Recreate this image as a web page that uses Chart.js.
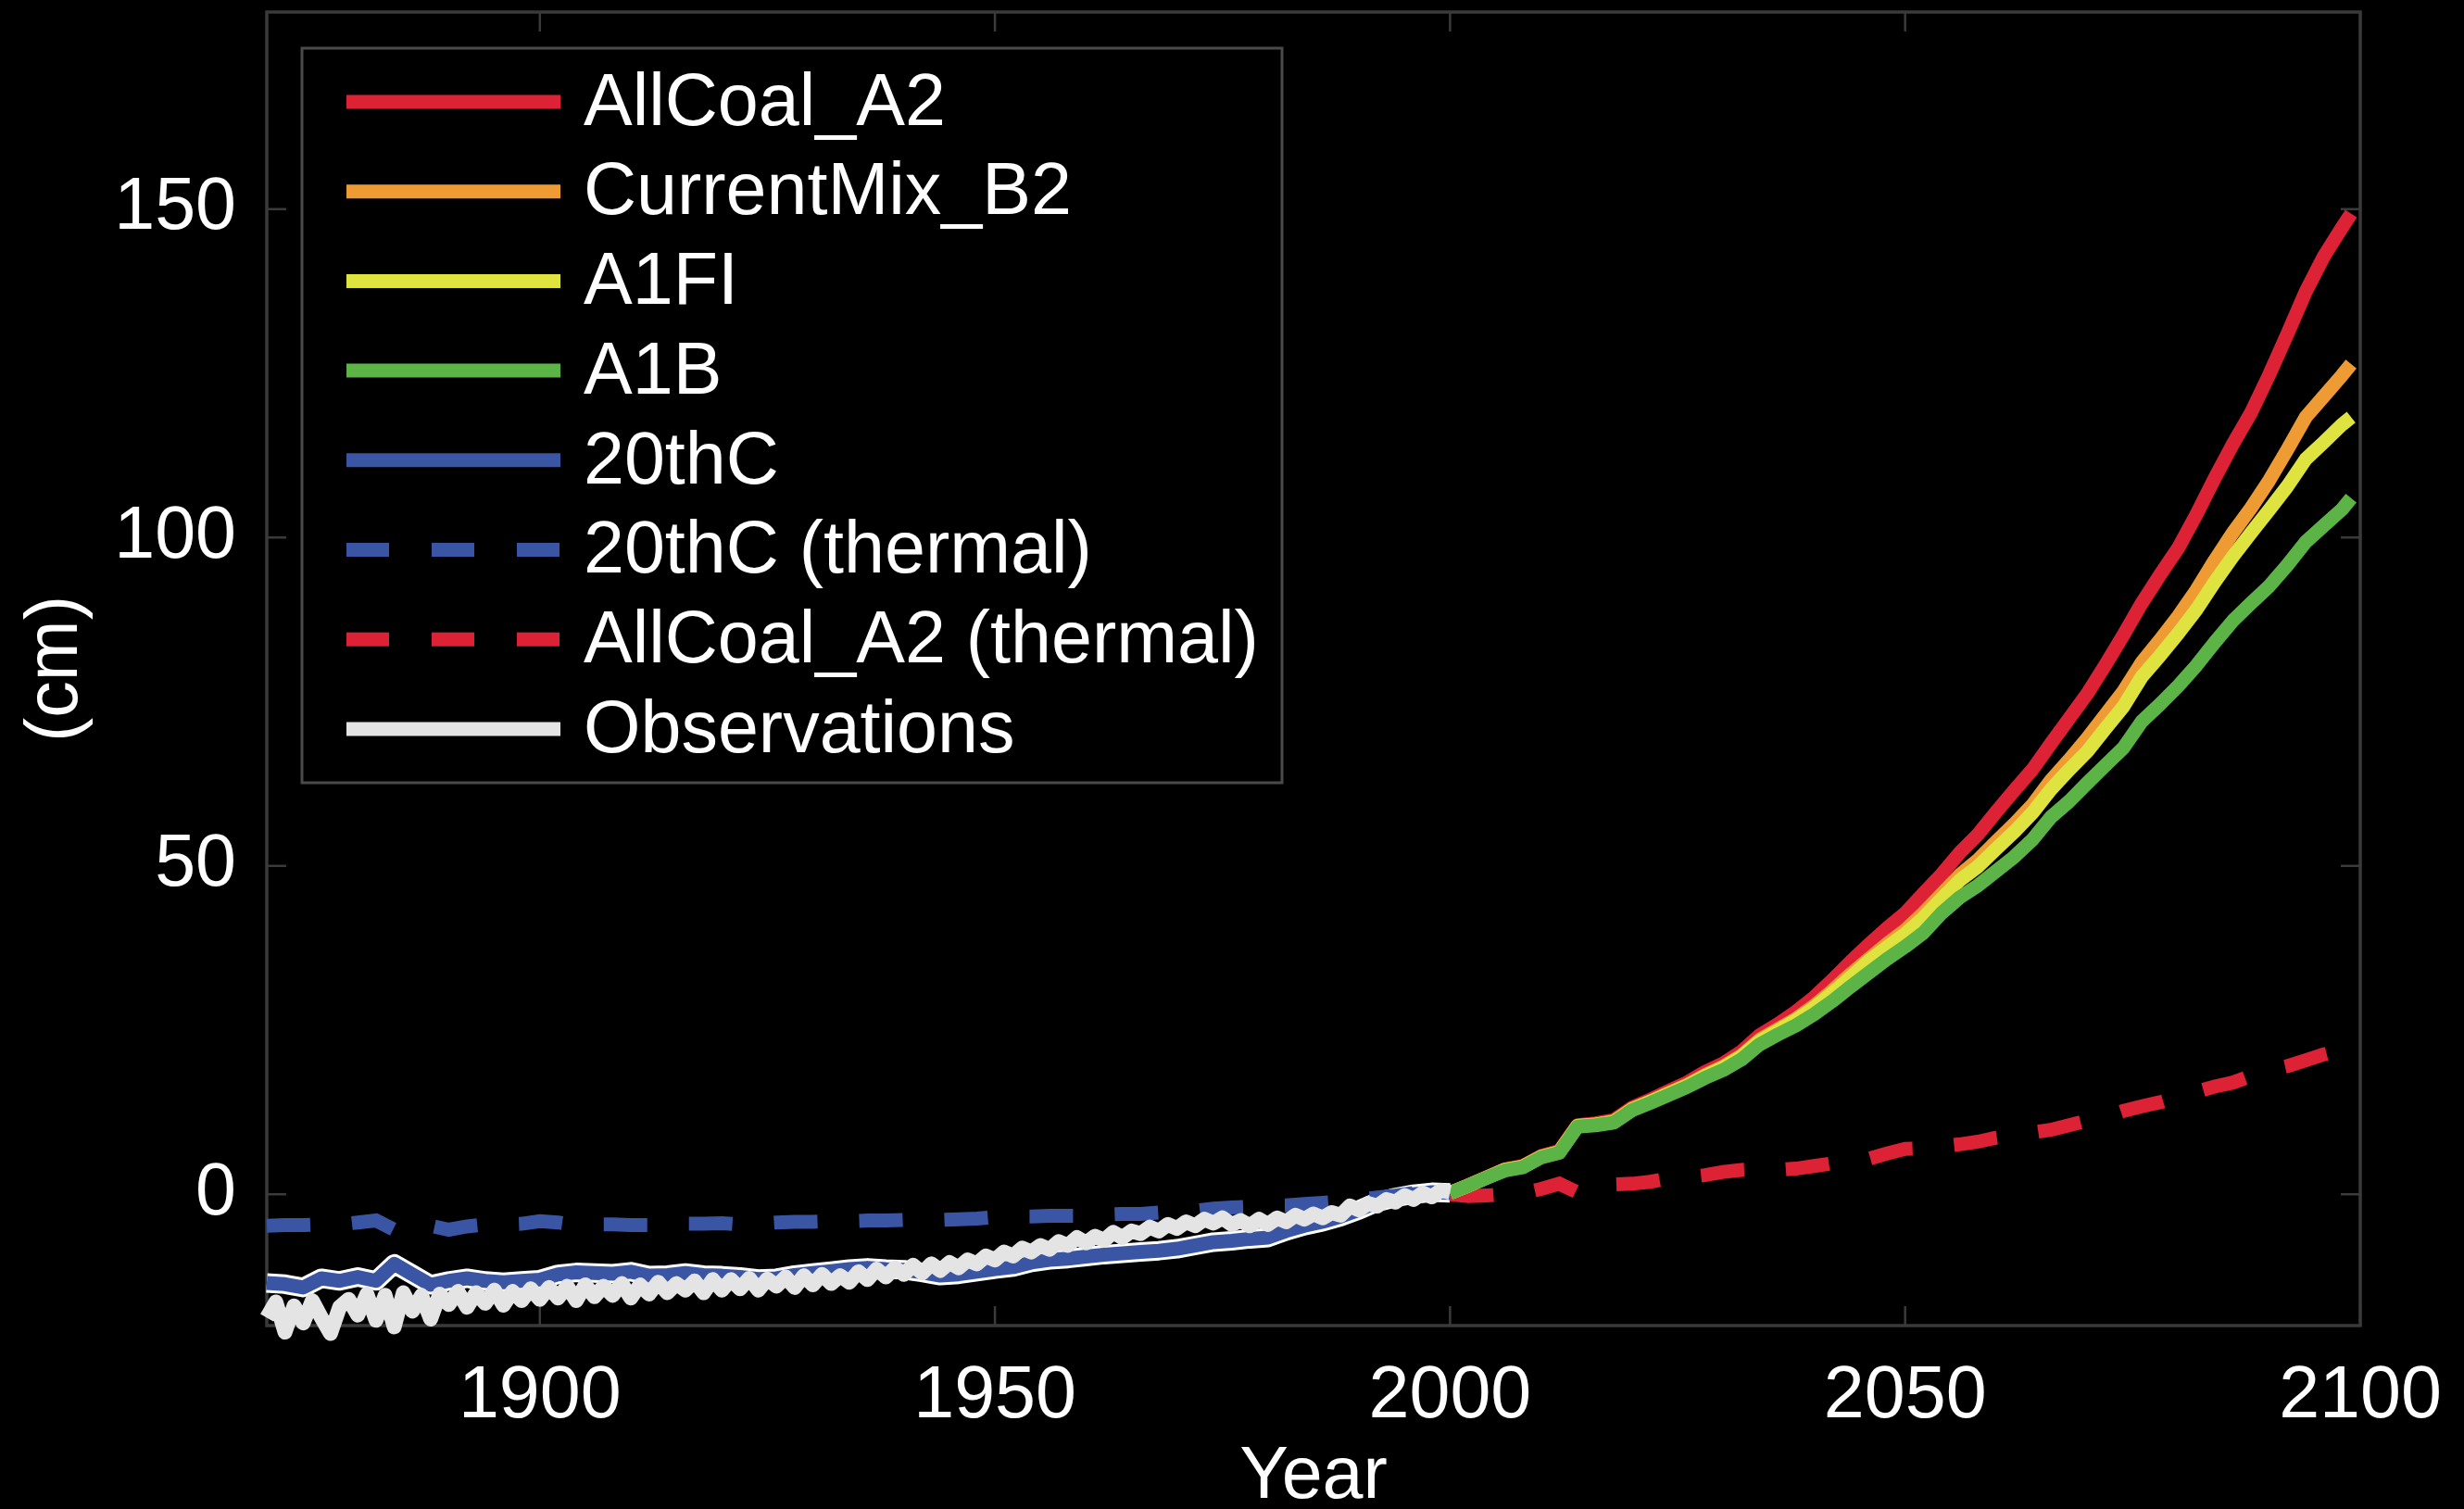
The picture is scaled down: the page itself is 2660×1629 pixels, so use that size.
<!DOCTYPE html>
<html>
<head>
<meta charset="utf-8">
<title>Sea level rise scenarios</title>
<script src="https://cdn.jsdelivr.net/npm/chart.js@4.4.1/dist/chart.umd.min.js"></script>
<style>
  html, body { margin: 0; padding: 0; background: #000; }
  canvas { display: block; }
</style>
</head>
<body>
<canvas id="chart" width="2660" height="1629"></canvas>
<script>
// ---- data (cm, relative to 2000) ----
const yearTicks = [1900, 1950, 2000, 2050, 2100];
const cmTicks = [0, 50, 100, 150];

const histYears = [1870,1872,1874,1876,1878,1880,1882,1884,1886,1888,
  1890,1892,1894,1896,1898,1900,1902,1904,1906,1908,
  1910,1912,1914,1916,1918,1920,1922,1924,1926,1928,
  1930,1932,1934,1936,1938,1940,1942,1944,1946,1948,
  1950,1952,1954,1956,1958,1960,1962,1964,1966,1968,
  1970,1972,1974,1976,1978,1980,1982,1984,1986,1988,
  1990,1992,1994,1996,1998,2000];

const twentiethC = [-13.5,-13.7,-14.2,-12.8,-13.2,-12.6,-13.2,-10.6,-12.2,-13.8,
  -13.2,-12.8,-13.2,-13.4,-13.2,-13.0,-12.2,-11.9,-12.0,-12.1,
  -11.8,-12.4,-12.3,-12.0,-12.3,-12.4,-12.6,-12.9,-12.8,-12.3,
  -12.0,-11.7,-11.4,-11.2,-11.4,-11.5,-11.9,-12.4,-12.2,-11.8,
  -11.4,-11.1,-10.4,-10.0,-9.8,-9.5,-9.2,-9.0,-8.8,-8.6,
  -8.3,-7.8,-7.3,-7.1,-6.8,-6.6,-5.6,-4.8,-4.2,-3.4,
  -2.4,-1.2,-0.5,0.0,0.3,0.2];

const twentiethCThermal = [-4.8,-4.7,-4.7,-4.6,-4.6,-4.3,-4.0,-5.4,-5.2,-4.8,
  -5.4,-4.9,-4.6,-4.6,-4.5,-4.1,-4.3,-4.7,-4.6,-4.6,
  -4.7,-4.7,-4.6,-4.5,-4.5,-4.4,-4.6,-4.5,-4.3,-4.2,
  -4.2,-4.1,-4.1,-4.0,-4.0,-3.9,-4.0,-3.9,-3.8,-3.7,
  -3.5,-3.4,-3.4,-3.3,-3.3,-3.3,-3.1,-3.0,-3.0,-2.8,
  -2.6,-2.5,-2.2,-2.0,-1.9,-1.7,-1.7,-1.5,-1.3,-1.1,
  -0.8,-0.5,-0.2,0.2,0.3,0.3];

const obsYears = [1870,1871,1872,1873,1874,1875,1876,1877,1878,1879,
  1880,1881,1882,1883,1884,1885,1886,1887,1888,1889,
  1890,1891,1892,1893,1894,1895,1896,1897,1898,1899,
  1900,1901,1902,1903,1904,1905,1906,1907,1908,1909,
  1910,1911,1912,1913,1914,1915,1916,1917,1918,1919,
  1920,1921,1922,1923,1924,1925,1926,1927,1928,1929,
  1930,1931,1932,1933,1934,1935,1936,1937,1938,1939,
  1940,1941,1942,1943,1944,1945,1946,1947,1948,1949,
  1950,1951,1952,1953,1954,1955,1956,1957,1958,1959,
  1960,1961,1962,1963,1964,1965,1966,1967,1968,1969,
  1970,1971,1972,1973,1974,1975,1976,1977,1978,1979,
  1980,1981,1982,1983,1984,1985,1986,1987,1988,1989,
  1990,1991,1992,1993,1994,1995,1996,1997,1998,1999,
  2000];

const observations = [-18.8,-16.4,-21.0,-17.0,-19.6,-16.2,-18.8,-21.2,-17.2,-16.0,
  -18.4,-15.2,-19.2,-15.4,-20.2,-15.0,-17.8,-15.4,-19.0,-15.2,
  -16.8,-14.8,-17.2,-15.0,-16.6,-14.6,-16.9,-14.8,-16.2,-14.4,
  -16.0,-14.2,-15.8,-14.0,-16.2,-13.8,-15.6,-14.0,-15.4,-13.6,
  -15.8,-13.8,-15.2,-13.4,-15.0,-13.6,-14.6,-13.2,-15.0,-13.0,
  -14.6,-13.0,-14.4,-12.8,-14.6,-12.9,-14.0,-12.6,-14.2,-12.4,
  -13.8,-12.2,-13.6,-12.4,-13.4,-11.8,-13.0,-11.4,-12.6,-11.2,
  -12.2,-10.8,-12.0,-10.6,-11.6,-10.4,-11.2,-10.0,-10.6,-9.4,
  -10.0,-8.8,-9.4,-8.2,-8.8,-7.8,-8.4,-7.2,-7.8,-6.6,
  -7.4,-6.4,-7.0,-5.8,-6.6,-5.6,-6.0,-5.0,-5.6,-4.6,
  -5.2,-4.2,-4.8,-3.8,-4.4,-3.6,-4.6,-4.0,-4.8,-3.8,
  -4.6,-3.6,-4.2,-3.2,-3.8,-3.0,-3.6,-2.8,-3.2,-1.8,
  -2.4,-1.4,-1.8,-0.8,-1.2,-0.2,-0.8,0.2,-0.4,0.6,
  0.3];

const projYears = [2000,2002,2004,2006,2008,2010,2012,2014,2016,2018,
  2020,2022,2024,2026,2028,2030,2032,2034,2036,2038,
  2040,2042,2044,2046,2048,2050,2052,2054,2056,2058,
  2060,2062,2064,2066,2068,2070,2072,2074,2076,2078,
  2080,2082,2084,2086,2088,2090,2092,2094,2096,2098,
  2099];

const allCoalA2 = [0.2,1.4,2.6,3.8,4.3,5.8,6.6,10.5,10.8,11.3,
  13.2,14.4,15.7,17.0,18.6,19.9,21.7,24.2,25.9,27.8,
  30.0,32.6,35.4,38.0,40.5,42.8,45.8,48.7,52.0,54.8,
  58.2,61.5,64.7,68.6,72.4,76.2,80.6,85.2,90.0,94.3,
  98.4,103.5,109.0,114.2,119.0,124.8,131.0,137.4,142.8,147.2,
  149.3];

const currentMixB2 = [0.2,1.3,2.5,3.7,4.2,5.7,6.4,10.4,10.6,11.1,
  13.0,14.1,15.4,16.6,18.1,19.4,21.1,23.5,25.1,26.7,
  28.7,31.0,33.5,35.8,38.1,40.2,42.8,45.7,48.6,50.9,
  53.7,56.4,59.3,63.0,66.1,69.4,73.0,76.6,81.0,84.4,
  88.0,92.0,96.5,100.7,104.5,108.7,113.4,118.3,121.5,124.7,
  126.4];

const a1fi = [0.2,1.3,2.5,3.7,4.2,5.7,6.4,10.4,10.6,11.0,
  12.9,14.1,15.3,16.5,18.0,19.3,21.0,23.3,24.9,26.5,
  28.4,30.6,33.0,35.5,37.6,39.6,42.1,45.0,47.8,49.9,
  52.6,55.2,58.1,61.6,64.6,67.4,70.9,74.3,78.8,82.0,
  85.4,89.0,93.2,97.1,100.7,104.2,107.8,111.9,114.5,117.2,
  118.3];

const a1b = [0.2,1.3,2.5,3.6,4.1,5.6,6.3,10.3,10.5,10.9,
  12.8,13.9,15.1,16.3,17.7,18.9,20.5,22.8,24.3,25.7,
  27.4,29.4,31.6,33.7,35.8,37.7,39.8,42.8,45.2,47.0,
  49.2,51.4,54.0,57.4,59.8,62.6,65.3,68.0,72.0,74.6,
  77.4,80.5,84.0,87.3,90.0,92.6,95.8,99.3,101.8,104.3,
  106.0];

const allCoalA2Thermal = [0.0,-0.3,-0.2,0.0,0.2,0.8,1.6,0.3,0.9,1.5,
  1.6,1.9,2.4,2.6,2.9,3.4,3.7,3.8,3.7,3.9,
  4.3,4.7,5.0,5.4,6.2,6.9,7.0,7.3,7.6,8.0,
  8.6,9.0,9.4,9.8,10.5,11.2,11.8,12.7,13.4,14.0,
  14.8,15.6,16.4,17.0,18.0,18.9,19.5,20.4,21.3,22.0,
  22.5];

const legendLabels = ['AllCoal_A2', 'CurrentMix_B2', 'A1FI', 'A1B', '20thC',
  '20thC (thermal)', 'AllCoal_A2 (thermal)', 'Observations'];

// ---- styling ----
const FONT = "'Liberation Sans', Arial, Helvetica, sans-serif";
const TEXT_SIZE = 79;
const COLORS = {
  red: '#dc2234', orange: '#ee9b34', yellow: '#dfe33f', green: '#5cb447',
  blue: '#3a55a4', obs: '#e4e4e4', outline: '#ffffff'
};
const DASH = [47, 45];

const toPoints = (xs, ys) => xs.map((x, i) => ({ x: x, y: ys[i] }));

function series(label, xs, ys, color, order, extra) {
  return Object.assign({
    label: label,
    data: toPoints(xs, ys),
    borderColor: color,
    backgroundColor: color,
    borderWidth: 15,
    pointRadius: 0,
    pointHoverRadius: 0,
    tension: 0,
    fill: false,
    clip: false,
    order: order,
    borderJoinStyle: 'round',
    borderCapStyle: 'butt'
  }, extra || {});
}

// lower "order" is painted on top
const datasets = [
  series('Observations', obsYears, observations, COLORS.obs, 0, { borderWidth: 16 }),
  series('A1B', projYears, a1b, COLORS.green, 1),
  series('A1FI', projYears, a1fi, COLORS.yellow, 2),
  series('CurrentMix_B2', projYears, currentMixB2, COLORS.orange, 3),
  series('AllCoal_A2', projYears, allCoalA2, COLORS.red, 4),
  series('AllCoal_A2 (thermal)', projYears, allCoalA2Thermal, COLORS.red, 5, { borderDash: DASH, borderJoinStyle: 'miter' }),
  series('20thC (thermal)', histYears, twentiethCThermal, COLORS.blue, 6, { borderDash: DASH, borderJoinStyle: 'miter' }),
  series('20thC', histYears, twentiethC, COLORS.blue, 7),
  series('20thC outline', histYears, twentiethC, COLORS.outline, 8, { borderWidth: 21 })
];

// axes box with inward tick marks on all four sides
const axesBox = {
  id: 'axesBox',
  beforeDatasetsDraw(chart) {
    const { ctx, chartArea: a, scales } = chart;
    const tl = 21;
    ctx.save();
    ctx.strokeStyle = '#3a3a3a';
    ctx.lineWidth = 3.5;
    ctx.strokeRect(a.left, a.top, a.right - a.left, a.bottom - a.top);
    ctx.lineWidth = 2.5;
    ctx.beginPath();
    scales.x.ticks.forEach(t => {
      const px = scales.x.getPixelForValue(t.value);
      ctx.moveTo(px, a.bottom); ctx.lineTo(px, a.bottom - tl);
      ctx.moveTo(px, a.top); ctx.lineTo(px, a.top + tl);
    });
    scales.y.ticks.forEach(t => {
      const py = scales.y.getPixelForValue(t.value);
      ctx.moveTo(a.left, py); ctx.lineTo(a.left + tl, py);
      ctx.moveTo(a.right, py); ctx.lineTo(a.right - tl, py);
    });
    ctx.stroke();
    ctx.restore();
  }
};

// boxed legend in the upper left of the plot
const boxedLegend = {
  id: 'boxedLegend',
  afterDatasetsDraw(chart) {
    const ctx = chart.ctx;
    const L = 326, T = 52, R = 1384, B = 845;
    const rowTop = 110, rowStep = 96.7;
    ctx.save();
    ctx.fillStyle = '#000';
    ctx.fillRect(L, T, R - L, B - T);
    ctx.strokeStyle = '#4a4a4a';
    ctx.lineWidth = 3;
    ctx.strokeRect(L, T, R - L, B - T);
    legendLabels.forEach((lab, i) => {
      const ds = chart.data.datasets.find(d => d.label === lab);
      const y = rowTop + i * rowStep;
      ctx.beginPath();
      ctx.setLineDash(ds.borderDash ? [46, 46] : []);
      ctx.lineDashOffset = 0;
      ctx.strokeStyle = ds.borderColor;
      ctx.lineWidth = 15;
      ctx.lineCap = 'butt';
      ctx.moveTo(374, y);
      ctx.lineTo(605, y);
      ctx.stroke();
      ctx.setLineDash([]);
      ctx.fillStyle = '#ffffff';
      ctx.font = TEXT_SIZE + 'px ' + FONT;
      ctx.textAlign = 'left';
      ctx.textBaseline = 'middle';
      ctx.fillText(lab, 630, y + 3);
    });
    ctx.restore();
  }
};

Chart.defaults.font.family = FONT;
Chart.defaults.color = '#ffffff';

new Chart(document.getElementById('chart'), {
  type: 'line',
  data: { datasets: datasets },
  options: {
    responsive: false,
    animation: false,
    layout: { padding: { left: 0, right: 112, top: 13, bottom: 0 } },
    plugins: { legend: { display: false }, tooltip: { enabled: false } },
    scales: {
      x: {
        type: 'linear',
        min: 1870,
        max: 2100,
        afterBuildTicks: s => { s.ticks = yearTicks.map(v => ({ value: v })); },
        afterFit: s => { s.height = 198; s.paddingLeft = 0; s.paddingRight = 0; },
        grid: { display: false },
        border: { display: false },
        ticks: {
          color: '#ffffff',
          font: { size: TEXT_SIZE, family: FONT },
          padding: 22,
          maxRotation: 0,
          autoSkip: false,
          callback: v => String(v)
        },
        title: {
          display: true,
          text: 'Year',
          color: '#ffffff',
          font: { size: TEXT_SIZE, family: FONT, lineHeight: 0.85 },
          padding: { top: 0, bottom: 0 }
        }
      },
      y: {
        type: 'linear',
        min: -20,
        max: 180,
        afterBuildTicks: s => { s.ticks = cmTicks.map(v => ({ value: v })); },
        afterFit: s => { s.width = 288; s.paddingTop = 0; s.paddingBottom = 0; },
        grid: { display: false },
        border: { display: false },
        ticks: {
          color: '#ffffff',
          font: { size: TEXT_SIZE, family: FONT },
          padding: 25,
          autoSkip: false,
          callback: v => String(v)
        },
        title: {
          display: true,
          text: '(cm)',
          color: '#ffffff',
          font: { size: TEXT_SIZE, family: FONT, lineHeight: 1.1 },
          padding: { top: 18, bottom: 0 }
        }
      }
    }
  },
  plugins: [axesBox, boxedLegend]
});
</script>
</body>
</html>
